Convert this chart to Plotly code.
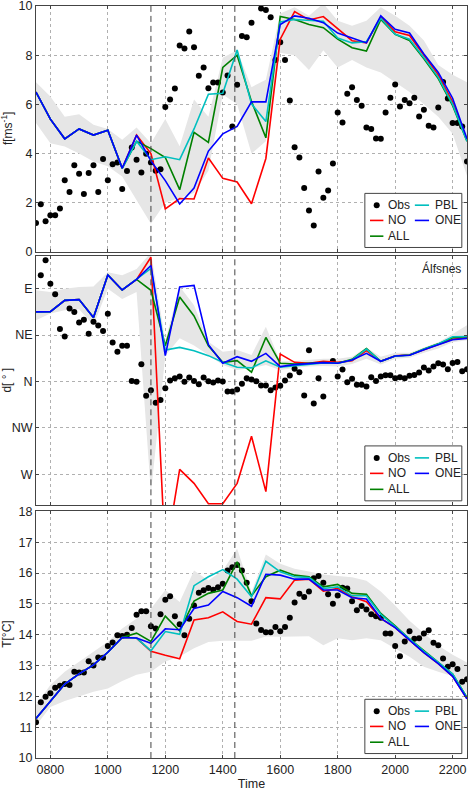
import plotly.graph_objects as go

# ---------------- data ----------------
model_time = [7.5, 8.0, 8.5, 9.0, 9.5, 10.0, 10.5, 11.0, 11.5, 12.0, 12.5, 13.0, 13.5, 14.0, 14.5,
              15.0, 15.5, 16.0, 16.5, 17.0, 17.5, 18.0, 18.5, 19.0, 19.5, 20.0, 20.5, 21.0, 21.5,
              22.0, 22.5]
obs_time = [round(7.5 + i / 6.0, 4) for i in range(91)]   # 10-minute observations

time_tickvals = [8, 10, 12, 14, 16, 18, 20, 22]
time_ticktext = ["0800", "1000", "1200", "1400", "1600", "1800", "2000", "2200"]
event_times = [11.5, 14.42]

# wind speed [m/s]
ff_obs = [1.18, 1.94, 1.25, 1.49, 1.49, 1.76, 2.91, 2.44, 3.52, 3.18, 2.35, 3.21, 3.52, 2.44, 3.78,
          2.91, 3.56, 3.64, 2.56, 3.29, 4.25, 3.75, 3.23, 3.99, 3.64, 3.30, 3.36, 5.89, 6.20, 6.64,
          8.39, 8.27, 8.96, 8.32, 7.16, 7.50, 6.66, 6.89, 6.89, 6.48, 7.17, 5.10, 6.80, 8.78, 8.73,
          9.32, None, 9.90, 9.84, 9.54, 7.80, 8.53, 7.80, 6.16, 4.26, 3.84, 2.60, 1.68, 1.07, 3.27,
          2.20, 2.50, 3.59, 5.67, 5.26, 6.43, 6.70, 6.18, 5.94, 5.06, 5.00, 4.61, 4.60, 5.67, 6.27,
          6.81, 5.91, 6.18, 6.05, 6.27, 5.51, 5.78, 5.13, 5.06, 5.87, 6.91, 6.24, 5.24, 5.24, 5.10,
          3.68]
ff_no = [6.5, 5.4, 4.6, 5.0, 4.75, 4.95, 3.4, 4.75, 4.0, 1.75, 2.17, 2.15, 3.82, 2.99, 2.84, 1.96,
         3.8, 8.65, 9.77, 9.43, 9.57, 9.09, 8.59, 8.5, 9.55, 8.95, 8.8, 8.0, 7.2, 6.1, 4.55]
ff_all = [6.5, 5.4, 4.6, 5.0, 4.75, 4.95, 3.4, 4.5, 4.2, 3.84, 2.53, 4.86, 4.45, 7.5, 8.0, 6.12,
          4.64, 9.57, 9.45, 9.25, 9.12, 8.65, 8.3, 8.17, 9.45, 8.85, 8.6, 7.85, 7.05, 5.95, 4.5]
ff_pbl = [6.5, 5.4, 4.6, 5.0, 4.75, 4.95, 3.4, 4.5, 3.75, 3.87, 3.75, 5.0, 6.41, 6.45, 8.21, 6.02,
          5.3, 9.35, 9.45, 9.4, 9.38, 8.7, 8.5, 8.55, 9.5, 8.85, 8.65, 7.9, 7.1, 6.0, 4.5]
ff_one = [6.5, 5.4, 4.6, 5.0, 4.75, 4.95, 3.4, 4.75, 3.7, 2.9, 1.95, 2.6, 4.1, 4.8, 5.1, 6.1, 6.1,
          9.25, 9.6, 9.5, 9.32, 8.9, 8.7, 8.5, 9.6, 9.05, 8.9, 8.05, 7.3, 6.25, 4.6]
ff_ens_hi = [6.9, 6.32, 5.5, 5.6, 5.17, 5.0, 4.56, 5.06, 4.42, 5.4, 4.3, 6.2, 5.5, 7.9, 8.2, 6.7,
             7.0, 9.7, 9.95, 9.6, 10.1, 9.4, 9.2, 9.4, 9.95, 9.6, 9.2, 8.6, 7.6, 7.2, 6.9]
ff_ens_lo = [5.24, 4.42, 4.29, 4.0, 3.68, 3.48, 3.07, 2.12, 1.15, 2.0, 2.2, 2.4, 3.3, 6.4, 6.0, 4.0,
             4.5, 8.1, 8.0, 7.4, 8.2, 7.5, 7.8, 7.5, 7.3, 6.9, 6.5, 6.0, 5.5, 4.8, 3.1]

# wind direction [deg relative to N: E=90, W=-90]
dd_obs = [None, 102.9, 117.6, 94.8, 84.5, 50.8, 43.7, 70.7, 67.5, 57.2, 59.8, 46.3, 57.9, 54.3, 48.9,
          65.6, 37.9, 28.9, 34.7, 34.7, 0.6, -0.3, 16.7, -13.8, -8.4, -20.6, -18.0, -6.4, 1.0, 3.2,
          4.8, -0.3, 3.9, 0.6, -2.6, 3.9, 0.3, -1.0, 1.0, 0.0, -9.6, -9.6, -7.7, -2.2, 3.2,
          1.9, 0.3, -3.9, -3.9, -8.4, -5.8, -4.2, 1.0, 5.8, 12.5, 9.0, -13.5, 30.2, -21.2, 3.2,
          -14.5, None, 19.9, 4.8, 11.6, -0.6, 2.6, -3.2, -3.2, -4.8, 4.2, 0.6, 4.8, 6.1, 6.1,
          3.2, 4.2, 3.2, 5.5, 6.4, 8.7, 13.5, 10.6, 14.5, 17.7, 16.4, 11.9, 18.0, 19.0, 10.0,
          11.9]
dd_no = [67.5, 67.8, 78.7, 79.4, 62.0, 103.2, 88.7, 99.0, 120.5, -170.0, -85.2, -98.7, -118.5,
         -118.5, -98.7, -53.0, -106.7, 26.7, 18.6, 17.7, 19.6, 18.6, 20.2, 29.9, 19.6, 25.0, 25.7,
         31.2, 36.0, 41.0, 42.5]
dd_all = [67.5, 67.8, 78.7, 79.4, 62.0, 103.2, 88.7, 99.0, 88.4, 34.7, 82.0, 63.6, 34.7, 18.6, 20.2,
          9.0, 42.7, 17.7, 17.0, 17.7, 18.3, 17.7, 21.5, 32.1, 19.6, 24.7, 25.7, 31.5, 36.5, 42.5,
          43.4]
dd_pbl = [67.5, 67.8, 78.7, 79.4, 62.0, 103.2, 88.7, 99.0, 109.6, 30.5, 33.1, 29.9, 25.1, 18.6, 13.8,
          13.2, 20.0, 13.8, 15.4, 16.4, 18.0, 17.7, 20.9, 31.5, 19.6, 24.7, 25.4, 31.2, 36.5, 43.4,
          43.7]
dd_one = [67.5, 67.8, 78.7, 79.4, 62.0, 103.2, 88.7, 99.0, 112.5, 25.1, 91.6, 93.2, 35.7, 17.7, 24.1,
          19.6, 27.3, 14.5, 16.4, 17.7, 18.3, 17.7, 20.9, 27.3, 19.6, 24.7, 25.4, 30.9, 35.7, 40.5,
          41.8]
dd_ens_hi = [88.4, 86.8, 90.0, 91.6, 92.0, 106.0, 103.0, 109.0, 125.0, 40.0, 92.0, 74.0, 38.6, 28.9,
             30.5, 25.7, 53.0, 19.3, 20.0, 21.0, 22.0, 22.0, 24.0, 33.0, 24.0, 28.0, 28.0, 33.0,
             38.0, 46.0, 54.6]
dd_ens_lo = [59.5, 65.9, 69.1, 70.0, 54.6, 90.0, 80.0, 86.8, -108.0, 25.0, 42.0, 35.0, 25.7, 16.0,
             11.2, 12.9, 16.0, 11.2, 13.0, 14.5, 15.0, 14.5, 17.0, 22.0, 16.5, 22.0, 23.0, 28.0,
             32.0, 38.0, 40.0]
dir_tickvals = [90, 45, 0, -45, -90]
dir_ticktext = ["E", "NE", "N", "NW", "W"]

# temperature [deg C]
tt_obs = [11.16, 11.81, 11.99, 12.10, 12.28, 12.34, 12.40, 12.37, 12.80, 12.77, 12.77, 13.14, 13.00,
          13.26, 13.25, 13.63, 13.75, 13.98, 13.96, 14.00, 14.22, 14.65, 14.76, 14.76, 14.27, 14.20,
          14.66, 15.13, 15.25, 14.60, 14.34, 13.98, 14.52, 14.95, 15.36, 15.44, 15.51, 15.46, 15.54,
          15.65, 16.08, 16.19, 16.26, 16.08, 15.68, 15.08, 14.36, 14.15, 14.08, 14.08, 14.25, 14.11,
          14.25, 14.55, 15.04, 15.33, 15.22, 15.40, 15.83, 15.90, 15.68, 15.31, 15.00, 15.27, 15.52,
          15.50, 15.08, 14.79, 14.93, 14.82, 14.66, 14.60, 14.55, 14.04, 14.04, 13.63, 13.30, 13.78,
          14.11, 13.87, 13.88, 14.04, 14.14, 13.74, 13.66, 13.23, 12.96, 13.04, 12.89, 12.47, 12.55]
tt_no = [11.28, 11.84, 12.4, 12.73, 13.02, 13.43, 13.91, 13.89, 13.46, 13.33, 13.22, 14.48, 14.55,
         14.74, 14.43, 14.34, 15.2, 15.16, 15.77, 15.8, 15.41, 15.5, 15.23, 15.07, 14.53, 14.23,
         13.83, 13.42, 13.06, 12.65, 11.92]
tt_all = [11.28, 11.84, 12.4, 12.73, 13.02, 13.43, 13.91, 14.05, 13.78, 14.6, 14.12, 15.09, 15.34,
          15.45, 16.36, 15.26, 15.88, 16.09, 15.93, 15.88, 15.55, 15.63, 15.34, 15.31, 14.69, 14.29,
          13.86, 13.48, 13.11, 12.72, 11.97]
tt_pbl = [11.28, 11.84, 12.4, 12.73, 13.02, 13.43, 13.91, 13.89, 13.48, 14.1, 14.01, 15.59, 15.88,
          16.11, 15.8, 15.23, 16.38, 16.04, 15.88, 15.85, 15.5, 15.55, 15.26, 15.26, 14.66, 14.26,
          13.85, 13.46, 13.1, 12.72, 11.95]
tt_one = [11.28, 11.84, 12.4, 12.73, 13.02, 13.43, 13.91, 13.89, 13.72, 14.19, 14.16, 14.85, 14.96,
          15.4, 15.2, 14.92, 15.96, 15.93, 15.8, 15.8, 15.45, 15.45, 15.2, 15.16, 14.53, 14.23,
          13.83, 13.42, 13.06, 12.65, 11.92]
tt_ens_hi = [11.72, 12.37, 12.8, 13.12, 13.44, 13.77, 14.2, 14.52, 14.84, 15.45, 15.06, 16.08, 15.76,
             16.08, 16.79, 15.38, 16.6, 16.3, 16.14, 16.05, 15.95, 15.9, 15.86, 15.75, 15.4, 14.95,
             14.45, 14.05, 13.65, 13.35, 13.1]
tt_ens_lo = [11.05, 11.65, 11.85, 12.0, 12.15, 12.25, 12.5, 12.7, 12.8, 13.13, 13.29, 13.56, 13.76,
             13.8, 13.8, 13.8, 13.94, 13.93, 13.93, 13.95, 13.66, 13.88, 13.82, 13.88, 13.82, 13.55,
             13.28, 12.96, 12.8, 12.65, 12.1]

series_names = ["NO", "ALL", "PBL", "ONE"]
series_colors = {"NO": "#ff0000", "ALL": "#008000", "PBL": "#00bfbf", "ONE": "#0000ff"}
band_color = "#e6e6e6"

panels = [
    dict(xa="x", ya="y", obs=ff_obs, lo=ff_ens_lo, hi=ff_ens_hi,
         runs={"NO": ff_no, "ALL": ff_all, "PBL": ff_pbl, "ONE": ff_one}),
    dict(xa="x2", ya="y2", obs=dd_obs, lo=dd_ens_lo, hi=dd_ens_hi,
         runs={"NO": dd_no, "ALL": dd_all, "PBL": dd_pbl, "ONE": dd_one}),
    dict(xa="x3", ya="y3", obs=tt_obs, lo=tt_ens_lo, hi=tt_ens_hi,
         runs={"NO": tt_no, "ALL": tt_all, "PBL": tt_pbl, "ONE": tt_one}),
]

FONT = "Liberation Sans, Arial, sans-serif"
fig = go.Figure()

for p in panels:
    # ensemble spread band
    fig.add_trace(go.Scatter(
        x=model_time + model_time[::-1], y=p["hi"] + p["lo"][::-1],
        fill="toself", fillcolor=band_color, line=dict(width=0), mode="lines",
        hoverinfo="skip", showlegend=False, xaxis=p["xa"], yaxis=p["ya"]))
    # observations
    fig.add_trace(go.Scatter(
        x=obs_time, y=p["obs"], mode="markers", name="Obs",
        marker=dict(color="black", size=6), showlegend=False,
        xaxis=p["xa"], yaxis=p["ya"]))
    for nm in series_names:
        fig.add_trace(go.Scatter(
            x=model_time, y=p["runs"][nm], mode="lines", name=nm,
            line=dict(color=series_colors[nm], width=1.6), showlegend=False,
            xaxis=p["xa"], yaxis=p["ya"]))

axis_common = dict(
    showline=True, mirror="ticks", linecolor="#444444", linewidth=1,
    ticks="inside", ticklen=3, tickcolor="#444444",
    showgrid=True, gridcolor="#b0b0b0", griddash="dot", gridwidth=1,
    zeroline=False, automargin=False, ticklabeloverflow="allow",
    tickfont=dict(family=FONT, size=12.5, color="#222222"),
)

xcommon = dict(axis_common, range=[7.5, 22.5], tickvals=time_tickvals, ticktext=time_ticktext)

fig.update_layout(
    width=469, height=791,
    margin=dict(l=36, r=2, t=6, b=33),
    paper_bgcolor="white", plot_bgcolor="white",
    template="none",
    font=dict(family=FONT, size=12, color="#222222"),
    showlegend=False,
    xaxis=dict(xcommon, anchor="y", domain=[0, 1], showticklabels=False),
    xaxis2=dict(xcommon, anchor="y2", domain=[0, 1], matches="x", showticklabels=False),
    xaxis3=dict(xcommon, anchor="y3", domain=[0, 1], matches="x",
                title=dict(text="Time", standoff=3, font=dict(family=FONT, size=12.5))),
    yaxis=dict(axis_common, anchor="x", domain=[0.673, 1.0], range=[0, 10],
               tickvals=[0, 2, 4, 6, 8, 10]),
    yaxis2=dict(axis_common, anchor="x2", domain=[0.336, 0.668], range=[-120, 122],
                tickvals=dir_tickvals, ticktext=dir_ticktext),
    yaxis3=dict(axis_common, anchor="x3", domain=[0.0, 0.328], range=[10, 18],
                tickvals=[10, 11, 12, 13, 14, 15, 16, 17, 18]),
)

shapes = []
annotations = []
ytitles = ["f[ms<sup>-1</sup>]", "d[ ° ]", "T[°C]"]

# legend geometry (domain units within each panel)
box_x0, box_x1, box_y0, box_y1 = 0.763, 0.988, 0.018, 0.238
row_y = [0.19, 0.128, 0.064]
col1_line = (0.775, 0.806)
col1_text = 0.812
col2_line = (0.879, 0.912)
col2_text = 0.921
legend_layout = [  # (name, column, row)
    ("Obs", 1, 0), ("NO", 1, 1), ("ALL", 1, 2), ("PBL", 2, 0), ("ONE", 2, 1)]

for k, p in enumerate(panels):
    xd = p["xa"] + " domain"
    yd = p["ya"] + " domain"
    for t in event_times:
        shapes.append(dict(type="line", xref=p["xa"], yref=yd, x0=t, x1=t, y0=0, y1=1,
                           line=dict(color="#444444", width=1, dash="6px,4px")))
    # legend box
    shapes.append(dict(type="rect", xref=xd, yref=yd, x0=box_x0, x1=box_x1, y0=box_y0, y1=box_y1,
                       fillcolor="white", line=dict(color="#444444", width=1)))
    for nm, col, row in legend_layout:
        yy = row_y[row]
        lx = col1_line if col == 1 else col2_line
        tx = col1_text if col == 1 else col2_text
        if nm == "Obs":
            cx = (lx[0] + lx[1]) / 2
            shapes.append(dict(type="circle", xref=xd, yref=yd,
                               xsizemode="pixel", ysizemode="pixel",
                               xanchor=cx, yanchor=yy, x0=-3, x1=3, y0=-3, y1=3,
                               fillcolor="black", line=dict(color="black", width=0)))
        else:
            shapes.append(dict(type="line", xref=xd, yref=yd, x0=lx[0], x1=lx[1], y0=yy, y1=yy,
                               line=dict(color=series_colors[nm], width=1.6)))
        annotations.append(dict(text=nm, xref=xd, yref=yd, x=tx, y=yy, xanchor="left",
                                yanchor="middle", showarrow=False,
                                font=dict(family=FONT, size=12, color="#222222")))
    # y-axis title
    annotations.append(dict(text=ytitles[k], xref="paper", yref=yd, x=-0.067, y=0.5,
                            xanchor="center", yanchor="middle", textangle=-90, showarrow=False,
                            font=dict(family=FONT, size=12, color="#222222")))

annotations.append(dict(text="Álfsnes", xref="x2 domain", yref="y2 domain", x=0.991, y=0.948,
                        xanchor="right", yanchor="middle", showarrow=False,
                        font=dict(family=FONT, size=12, color="#222222")))

fig.update_layout(shapes=shapes, annotations=annotations)

fig.write_html("out.html", config={"displayModeBar": False},
               post_script="document.body.style.margin='0';")
